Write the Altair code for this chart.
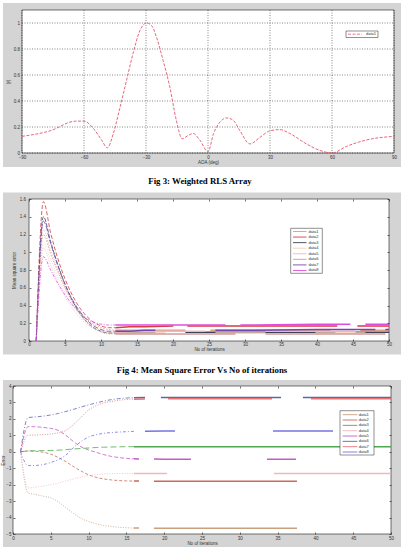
import altair as alt
import pandas as pd

# ---- Fig 3: weighted RLS array response |y| against angle of arrival ----
aoa_deg = [-90, -76.5, -64, -60, -55.5, -51.5, -48.7, -45.8, -42.6, -39.4,
           -36.2, -33, -29.7, -27.3, -24.9, -21.7, -18.5, -15.3, -12.5, -9.6,
           -7.2, -4, 0, 2.7, 5.9, 9.1, 12.3, 15.5, 20.3, 25.1,
           29.9, 34.8, 39.6, 47.6, 54.1, 60, 66.9, 76.6, 90]
gain = [0.128, 0.17, 0.245, 0.245, 0.19, 0.10, 0.04, 0.15, 0.35, 0.56,
        0.77, 0.94, 1.0, 0.98, 0.89, 0.71, 0.51, 0.25, 0.11, 0.135,
        0.15, 0.10, 0.01, 0.15, 0.24, 0.27, 0.25, 0.17, 0.07, 0.12,
        0.17, 0.18, 0.15, 0.07, 0.02, 0.0, 0.05, 0.10, 0.128]
aoa_ticks = [-90, -60, -30, 0, 30, 60, 90]
gain_ticks = [0, 0.2, 0.4, 0.6, 0.8, 1.0]

# ---- Fig 4: mean square error against number of iterations ----
mse_iter = [1, 2, 3, 4, 5, 6, 7, 8, 9, 10, 11, 12, 14, 16, 20, 30, 40, 50]
mse_data1 = [0, 1.20, 0.98, 0.78, 0.60, 0.45, 0.34, 0.25, 0.19, 0.15, 0.13, 0.12, 0.12, 0.12, 0.12, 0.12, 0.12, 0.12]
mse_data2 = [0, 1.57, 1.22, 0.93, 0.70, 0.52, 0.38, 0.28, 0.21, 0.17, 0.15, 0.15, 0.16, 0.16, 0.17, 0.17, 0.17, 0.17]
mse_data3 = [0, 1.40, 1.12, 0.86, 0.64, 0.46, 0.32, 0.22, 0.15, 0.11, 0.09, 0.09, 0.09, 0.10, 0.10, 0.10, 0.10, 0.10]
mse_data4 = [0, 1.10, 0.92, 0.72, 0.55, 0.41, 0.30, 0.21, 0.15, 0.12, 0.10, 0.09, 0.09, 0.09, 0.09, 0.09, 0.09, 0.09]
mse_data5 = [0, 1.05, 0.86, 0.67, 0.50, 0.37, 0.27, 0.19, 0.14, 0.11, 0.10, 0.10, 0.11, 0.11, 0.11, 0.11, 0.11, 0.11]
mse_data6 = [0, 1.25, 1.02, 0.80, 0.60, 0.44, 0.31, 0.21, 0.14, 0.10, 0.08, 0.08, 0.08, 0.08, 0.08, 0.08, 0.08, 0.08]
mse_data7 = [0, 1.35, 1.10, 0.85, 0.64, 0.47, 0.34, 0.24, 0.17, 0.13, 0.11, 0.11, 0.11, 0.12, 0.12, 0.12, 0.13, 0.13]
mse_data8 = [0, 0.95, 0.80, 0.65, 0.52, 0.41, 0.32, 0.25, 0.21, 0.19, 0.18, 0.18, 0.18, 0.18, 0.18, 0.18, 0.19, 0.19]
mse_ticks = [0, 0.2, 0.4, 0.6, 0.8, 1.0, 1.2, 1.4, 1.6]

# ---- weight error traces against number of iterations ----
wt_iter = [1, 2, 3, 4, 5, 6, 7, 8, 9, 10, 11, 12, 13, 14, 15, 16, 20, 30, 40, 50]
wt_data1 = [0, -2.50, -2.60, -2.70, -2.80, -3.05, -3.40, -3.75, -4.05, -4.24, -4.38, -4.48, -4.54, -4.59, -4.62, -4.64, -4.65, -4.65, -4.65, -4.65]
wt_data2 = [0, 0.05, 0.03, -0.03, -0.15, -0.35, -0.60, -0.90, -1.17, -1.40, -1.55, -1.65, -1.71, -1.75, -1.77, -1.78, -1.79, -1.79, -1.79, -1.79]
wt_data3 = [0, 0.05, 0.06, 0.07, 0.08, 0.10, 0.13, 0.17, 0.20, 0.23, 0.26, 0.28, 0.29, 0.30, 0.31, 0.31, 0.31, 0.31, 0.31, 0.31]
wt_data4 = [0, -2.20, -2.15, -2.08, -2.00, -1.90, -1.78, -1.65, -1.54, -1.45, -1.39, -1.35, -1.33, -1.32, -1.32, -1.32, -1.32, -1.32, -1.32, -1.32]
wt_data5 = [0, 1.53, 1.52, 1.48, 1.42, 1.30, 1.00, 0.62, 0.30, 0.11, -0.03, -0.17, -0.28, -0.35, -0.40, -0.43, -0.45, -0.45, -0.45, -0.45]
wt_data6 = [0, 2.08, 2.12, 2.17, 2.24, 2.33, 2.45, 2.58, 2.72, 2.85, 2.97, 3.08, 3.17, 3.23, 3.27, 3.29, 3.30, 3.30, 3.30, 3.30]
wt_data7 = [0, 1.00, 1.02, 1.04, 1.08, 1.15, 1.30, 1.65, 2.10, 2.54, 2.80, 2.97, 3.06, 3.13, 3.18, 3.20, 3.22, 3.22, 3.22, 3.22]
wt_data8 = [0, -0.84, -0.83, -0.78, -0.65, -0.48, -0.20, 0.25, 0.62, 0.90, 1.04, 1.12, 1.17, 1.20, 1.22, 1.24, 1.26, 1.26, 1.26, 1.26]
wt_ticks = [-5, -4, -3, -2, -1, 0, 1, 2, 3, 4]
iter_ticks = [0, 5, 10, 15, 20, 25, 30, 35, 40, 45, 50]

SERIES = ["data1", "data2", "data3", "data4", "data5", "data6", "data7", "data8"]
MSE = dict(zip(SERIES, [mse_data1, mse_data2, mse_data3, mse_data4,
                        mse_data5, mse_data6, mse_data7, mse_data8]))
WT = dict(zip(SERIES, [wt_data1, wt_data2, wt_data3, wt_data4,
                       wt_data5, wt_data6, wt_data7, wt_data8]))

# line styles: colour, dash of the transient part, dash of the settled part
MSE_STYLE = {
    "data1": {"color": "#e39a82", "dash": [1.5, 1.5], "flat": [70, 25, 120, 30]},
    "data2": {"color": "#d63c44", "dash": [4, 2], "flat": [58, 14, 150, 20]},
    "data3": {"color": "#3c4256", "dash": [4, 1.5], "flat": [40, 30, 150, 20]},
    "data4": {"color": "#f2cdb0", "dash": [1, 1.5], "flat": [50, 50]},
    "data5": {"color": "#f0b4c8", "dash": [1, 1.5], "flat": [90, 60]},
    "data6": {"color": "#cf9c9c", "dash": [1, 1.5], "flat": [120, 30]},
    "data7": {"color": "#7446b4", "dash": [5, 2], "flat": [40, 60, 160, 10]},
    "data8": {"color": "#e04ce0", "dash": [3, 1.5, 1, 1.5], "flat": [110, 15]},
}
WT_STYLE = {
    "data1": {"color": "#c9a07e", "dash": [1, 1.5], "flat": [5, 15, 143, 95]},
    "data2": {"color": "#c96a5a", "dash": [3, 2], "flat": [5, 15, 143, 95]},
    "data3": {"color": "#4fa84f", "dash": [6, 3], "flat": []},
    "data4": {"color": "#f2b6c0", "dash": [1, 1.5], "flat": [33, 107, 117, 10]},
    "data5": {"color": "#c45cc8", "dash": [4, 2], "flat": [5, 15, 37, 76, 29, 95]},
    "data6": {"color": "#5a68a8", "dash": [4, 2, 1, 2], "flat": [11, 16, 120, 22, 120, 1]},
    "data7": {"color": "#e67476", "dash": [1, 1.5], "flat": [11, 23, 104, 39, 100, 1]},
    "data8": {"color": "#7474e4", "dash": [3, 2, 1, 2], "flat": [0, 11, 30, 98, 60, 60]},
}

W, H = 403, 559
SANS = "Liberation Sans"
SERIF = "Liberation Serif"
FIG_GRAY = "#d4d4d4"
ONE = pd.DataFrame({"k": [0]})
AX = dict(domain=False, labelFlush=False, labelOverlap=False, labelFont=SANS,
          labelFontSize=4.5, labelColor="#333", titleFont=SANS,
          titleFontSize=4.5, titleFontWeight="normal", titleColor="#333",
          tickColor="#111", tickWidth=0.6, zindex=2)


def rect(x1, x2, y1, y2, **style):
    return alt.Chart(ONE).mark_rect(**style).encode(
        x=alt.value(x1), x2=alt.value(x2), y=alt.value(y1), y2=alt.value(y2))


def text(t, x, y, **style):
    return alt.Chart(pd.DataFrame({"t": [t]})).mark_text(**style).encode(
        text="t:N", x=alt.value(x), y=alt.value(y))


def frame(box, plot):
    """Grey figure surround and the white axes box inside it."""
    return [rect(box[0], box[1], box[2], box[3], fill=FIG_GRAY),
            rect(plot[0], plot[1], plot[2], plot[3], fill="white",
                 stroke="#1a1a1a", strokeWidth=0.6)]


def caption(t, x, y):
    return text(t, x, y, font=SERIF, fontWeight="bold", fontSize=8.8,
                align="center", baseline="middle", color="#000")


def legend_box(styles, box, row0, step, lx, tx):
    layers = [rect(box[0], box[1], box[2], box[3], fill="white",
                   stroke="#222", strokeWidth=0.5)]
    for i, name in enumerate(SERIES):
        y = row0 + i * step
        st = styles[name]
        layers.append(alt.Chart(ONE).mark_rule(
            color=st["color"], strokeWidth=0.9).encode(
            x=alt.value(lx[0]), x2=alt.value(lx[1]), y=alt.value(y)))
        layers.append(text(name, tx, y, font=SANS, fontSize=4, align="left",
                           baseline="middle", color="#333"))
    return layers


def series_lines(iters, table, styles, split, xs, ys):
    layers = []
    for name in SERIES:
        st = styles[name]
        df = pd.DataFrame({"x": iters, "y": table[name]})
        head = df[df["x"] <= split]
        tail = df[df["x"] >= split]
        layers.append(alt.Chart(head).mark_line(
            color=st["color"], strokeWidth=0.8, strokeDash=st["dash"],
            interpolate="monotone").encode(
            x=alt.X("x:Q", scale=xs, axis=None),
            y=alt.Y("y:Q", scale=ys, axis=None)))
        flat_style = {"strokeDash": st["flat"]} if st["flat"] else {}
        layers.append(alt.Chart(tail).mark_line(
            color=st["color"], strokeWidth=1.5, **flat_style).encode(
            x=alt.X("x:Q", scale=xs, axis=None),
            y=alt.Y("y:Q", scale=ys, axis=None)))
    return layers


def boxed_axes(xs, ys, plot, xdom, ydom, xvals, yvals, xtitle, ytitle,
               xpad, ypad, xtpad, ytpad, fmt):
    """Labelled bottom/left axes plus bare top/right ones, ticks pointing in."""
    x1, x2, y1, y2 = plot
    dom = pd.DataFrame({"x": xdom, "y": ydom})
    main = alt.Chart(dom).mark_point(opacity=0).encode(
        x=alt.X("x:Q", scale=xs, axis=alt.Axis(
            orient="bottom", values=xvals, offset=(y2 - 2) - H, tickSize=2,
            labelPadding=xpad, title=xtitle, titlePadding=xtpad,
            format="d", **AX)),
        y=alt.Y("y:Q", scale=ys, axis=alt.Axis(
            orient="left", values=yvals, offset=-(x1 + 2), tickSize=2,
            labelPadding=ypad, title=ytitle, titlePadding=ytpad,
            format=fmt, **AX)))
    mirror = alt.Chart(dom).mark_point(opacity=0).encode(
        x=alt.X("x:Q", scale=xs, axis=alt.Axis(
            orient="top", values=xvals, offset=-(y1 + 2), tickSize=2,
            labels=False, title=None, **AX)),
        y=alt.Y("y:Q", scale=ys, axis=alt.Axis(
            orient="right", values=yvals, offset=(x2 - 2) - W, tickSize=2,
            labels=False, title=None, **AX)))
    return [main, mirror]


# ---------------- panel 1: array pattern ----------------
P1 = (22, 394, 10, 153)
xs1 = alt.Scale(domain=[-90, 90], range=[P1[0], P1[1]], nice=False, zero=False)
ys1 = alt.Scale(domain=[0, 1.1], range=[P1[3], P1[2]], nice=False, zero=False)
pattern = pd.DataFrame({"x": aoa_deg, "y": gain})
grid_x = alt.Chart(pd.DataFrame({"x": aoa_ticks})).mark_rule(
    color="#000", strokeWidth=0.6, strokeDash=[1, 1.5], opacity=0.8).encode(
    x=alt.X("x:Q", scale=xs1, axis=None), y=alt.value(P1[2]), y2=alt.value(P1[3]))
grid_y = alt.Chart(pd.DataFrame({"y": gain_ticks})).mark_rule(
    color="#000", strokeWidth=0.6, strokeDash=[1, 1.5], opacity=0.8).encode(
    y=alt.Y("y:Q", scale=ys1, axis=None), x=alt.value(P1[0]), x2=alt.value(P1[1]))
p1_line = alt.Chart(pattern).mark_line(
    color="#e2566e", strokeWidth=0.9, strokeDash=[3, 1.5],
    interpolate="monotone").encode(
    x=alt.X("x:Q", scale=xs1, axis=alt.Axis(
        orient="bottom", values=aoa_ticks, offset=P1[3] - H, ticks=False,
        tickSize=0, labelPadding=1, title="AOA (deg)", titlePadding=0.5,
        format="d", **AX)),
    y=alt.Y("y:Q", scale=ys1, axis=alt.Axis(
        orient="left", values=gain_ticks, offset=-P1[0], ticks=False,
        tickSize=0, labelPadding=2.5, title="|y|", titlePadding=3,
        format="~g", **AX)))
p1_legend = [
    rect(346, 378, 31, 37.5, fill="white", stroke="#222", strokeWidth=0.5),
    alt.Chart(ONE).mark_rule(color="#e2566e", strokeWidth=0.8,
                             strokeDash=[3, 1.5]).encode(
        x=alt.value(348), x2=alt.value(362), y=alt.value(34.2)),
    text("data1", 376, 34.2, font=SANS, fontSize=4, align="right",
         baseline="middle", color="#333"),
]

# ---------------- panel 2: mean square error ----------------
P2 = (29, 389, 199, 341)
xs2 = alt.Scale(domain=[0, 50], range=[P2[0], P2[1]], nice=False, zero=False)
ys2 = alt.Scale(domain=[0, 1.6], range=[P2[3], P2[2]], nice=False, zero=False)

# ---------------- panel 3: weight error traces ----------------
P3 = (13, 391, 386, 534)
xs3 = alt.Scale(domain=[0, 50], range=[P3[0], P3[1]], nice=False, zero=False)
ys3 = alt.Scale(domain=[-5, 4], range=[P3[3], P3[2]], nice=False, zero=False)

layers = (
    frame((3, 401, 3, 167), P1)
    + [grid_x, grid_y, p1_line]
    + p1_legend
    + [caption("Fig 3: Weighted RLS Array", 200, 180.7)]
    + frame((3, 401, 192.5, 354.5), P2)
    + series_lines(mse_iter, MSE, MSE_STYLE, 12, xs2, ys2)
    + legend_box(MSE_STYLE, (290.7, 322.3, 228.3, 273.3), 231.5, 5.57,
                 (293, 306.5), 308.5)
    + boxed_axes(xs2, ys2, P2, [0, 50], [0, 1.6], iter_ticks, mse_ticks,
                 "No of iterations", "Mean square error", 0.5, 3.5, 0.5, 2.5, "~g")
    + [caption("Fig 4: Mean Square Error Vs No of iterations", 202, 369.5)]
    + frame((3, 401, 380, 547), P3)
    + series_lines(wt_iter, WT, WT_STYLE, 16, xs3, ys3)
    + legend_box(WT_STYLE, (340, 374, 410.7, 455), 414.7, 5.33,
                 (342.7, 357.3), 358.7)
    + boxed_axes(xs3, ys3, P3, [0, 50], [-5, 4], iter_ticks, wt_ticks,
                 "No of iterations", "Error", 1.5, 2, 0.3, 0.5, "d")
)

chart = alt.layer(*layers).resolve_scale(
    x="independent", y="independent").resolve_axis(
    x="independent", y="independent").properties(
    width=W, height=H, padding=0, background="white",
    autosize=alt.AutoSizeParams(type="none"),
).configure_view(strokeWidth=0)

chart.save("out.html", embed_options={"renderer": "svg", "actions": False})
